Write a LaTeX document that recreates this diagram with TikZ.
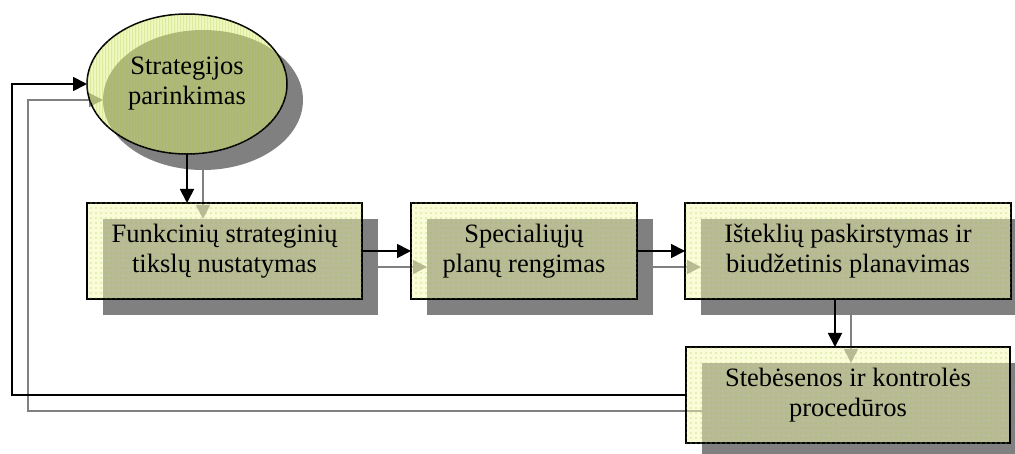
\documentclass[tikz,border=0pt]{standalone}
\usepackage{fontspec}
\setmainfont{Liberation Serif}
\usetikzlibrary{arrows.meta,patterns,shapes.geometric}
\pgfdeclarepatternformonly{sparsedots}{\pgfqpoint{-1pt}{-1pt}}{\pgfqpoint{6pt}{6pt}}{\pgfqpoint{5pt}{5pt}}{\pgfpathcircle{\pgfqpoint{1pt}{1pt}}{0.9pt}\pgfusepath{fill}}
\pgfdeclarepatternformonly{vstripes}{\pgfqpoint{0pt}{0pt}}{\pgfqpoint{3pt}{1pt}}{\pgfqpoint{3pt}{1pt}}{\pgfpathrectangle{\pgfqpoint{0pt}{0pt}}{\pgfqpoint{1.5pt}{1pt}}\pgfusepath{fill}}
\definecolor{shgray}{RGB}{128,128,128}
\definecolor{boxc}{RGB}{245,249,173}
\definecolor{dotc}{RGB}{150,195,70}
\definecolor{ellc}{RGB}{225,241,125}
\definecolor{stripec}{RGB}{150,190,50}
\begin{document}
\begin{tikzpicture}[x=1pt,y=-1pt,
  shbox/.style={rectangle,fill=shgray,draw=none,inner sep=0pt,outer sep=0pt,minimum width=#1,minimum height=96pt},
  mainbox/.style={rectangle,draw=black,line width=1.5pt,fill=boxc,fill opacity=0.49,text opacity=1,
     inner sep=0pt,outer sep=0pt,minimum width=#1,minimum height=96pt,align=center,
     font=\fontsize{26.5}{30}\selectfont,
     postaction={fill opacity=0.45,pattern=sparsedots,pattern color=dotc}},
  shell/.style={ellipse,fill=shgray,draw=none,inner sep=0pt,outer sep=0pt,minimum width=200pt,minimum height=140pt},
  mainell/.style={ellipse,draw=black,line width=1.5pt,fill=ellc,fill opacity=0.5,text opacity=1,
     inner sep=0pt,outer sep=0pt,minimum width=200pt,minimum height=140pt,align=center,
     font=\fontsize{26.5}{30}\selectfont,
     postaction={fill opacity=0.35,pattern=vstripes,pattern color=stripec}},
  blk/.style={draw=black,line width=1.8pt,-{Triangle[width=14pt,length=14pt]}},
  gry/.style={draw=shgray,line width=1.6pt,-{Triangle[width=14pt,length=14pt]},color=shgray}]
\useasboundingbox (0,0) rectangle (1015,454);
\clip (0,0) rectangle (1015,454);
% shadows
\node[shell] (ells) at (203,100) {};
\node[shbox=275pt] (b1s) at (240.5,267) {};
\node[shbox=226pt] (b2s) at (540,267) {};
\node[shbox=326pt] (b3s) at (864,267) {};
\node[shbox=324pt] (b4s) at (864,411) {};
\coordinate (fbxs) at (28,250);
% gray (shadow) connectors
\draw[gry] (ells.south) -- (ells.south |- b1s.north);
\draw[gry] (b1s.east) -- (b2s.west);
\draw[gry] (b2s.east) -- (b3s.west);
\draw[gry] ([xshift=-13pt]b3s.south) -- ([xshift=-13pt]b4s.north);
\draw[gry] (b4s.west) -| (fbxs) |- (ells.west);
% main shapes
\node[mainell] (ell) at (187,84) {Strategijos\\parinkimas};
\node[mainbox=275pt] (b1) at (224.5,251) {Funkcinių strateginių\\tikslų nustatymas};
\node[mainbox=226pt] (b2) at (524,251) {Specialiųjų\\planų rengimas};
\node[mainbox=326pt] (b3) at (848,251) {Išteklių paskirstymas ir\\biudžetinis planavimas};
\node[mainbox=324pt] (b4) at (848,395) {Stebėsenos ir kontrolės\\procedūros};
\coordinate (fbx) at (12,250);
% black connectors
\draw[blk] (ell.south) -- (ell.south |- b1.north);
\draw[blk] (b1.east) -- (b2.west);
\draw[blk] (b2.east) -- (b3.west);
\draw[blk] ([xshift=-13pt]b3.south) -- ([xshift=-13pt]b4.north);
\draw[blk] (b4.west) -| (fbx) |- (ell.west);
\end{tikzpicture}
\end{document}
